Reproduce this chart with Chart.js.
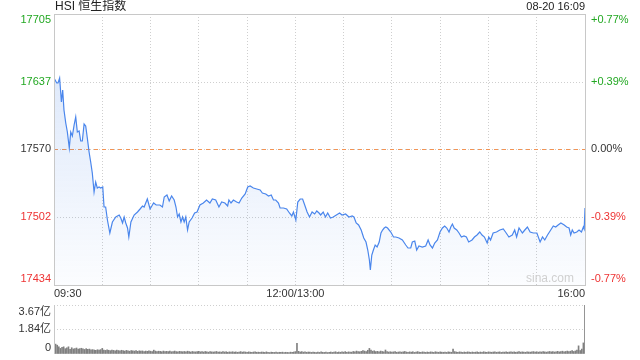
<!DOCTYPE html>
<html>
<head>
<meta charset="utf-8">
<script src="https://cdn.jsdelivr.net/npm/chart.js"></script>
<style>
  html, body { margin: 0; padding: 0; background: #fff; }
  #wrap { position: relative; width: 640px; height: 360px; }
  #main { position: absolute; left: 0; top: 0; }
  #vol { position: absolute; left: 0; top: 300px; }
</style>
</head>
<body>
<div id="wrap">
  <canvas id="main" width="640" height="300"></canvas>
  <canvas id="vol" width="640" height="60"></canvas>
</div>
<script>
// trading minutes since 09:30 (12:00/13:00 = 150, 16:00 = 330)
const minutes = [
  0, 1.7, 2.5, 3.5, 4.6, 5.4, 6.2, 7.3, 8.3, 9.5, 10.4, 11.4, 12.5, 13.5, 14.5, 15.6, 16.6, 17.6, 18.7, 19.7,
  20.7, 21.8, 22.8, 23.8, 24.9, 25.9, 26.9, 28.0, 29.0, 30.3, 31.1, 32.1, 33.2, 34.7, 36.3, 38.4, 40.5, 41.5, 42.6, 43.6,
  44.6, 45.7, 46.5, 47.8, 49.8, 51.9, 53.5, 55.0, 56.0, 57.0, 58.0, 59.7, 60.8, 61.9, 63.5, 65.8, 67.4, 68.5, 70.2, 71.6,
  73.1, 74.7, 75.8, 76.8, 77.8, 78.9, 79.9, 80.9, 81.9, 83.0, 84.0, 85.8, 87.4, 88.9, 90.7, 92.8, 94.8, 96.9, 98.4, 100.5,
  102.5, 104.2, 106.2, 107.9, 108.7, 110.0, 111.5, 113.5, 115.0, 116.7, 118.8, 120.4, 121.9, 123.9, 126.0, 128.1, 129.5, 131.6, 133.3, 135.0,
  136.4, 137.8, 139.5, 140.5, 142.6, 144.6, 146.3, 147.8, 148.8, 150.3, 151.5, 153.0, 154.5, 155.8, 157.3, 158.8, 160.4, 162.0, 163.3, 164.7,
  165.7, 167.3, 168.7, 170.1, 171.8, 173.5, 175.5, 177.5, 179.0, 181.2, 183.3, 185.3, 186.4, 187.8, 189.3, 190.9, 192.5, 193.9, 195.0, 196.0,
  196.6, 197.5, 198.5, 199.6, 200.8, 202.1, 203.2, 204.2, 205.2, 206.2, 207.3, 209.3, 211.0, 212.4, 214.4, 216.5, 218.6, 220.0, 221.7, 222.7,
  224.2, 225.4, 226.8, 228.9, 231.0, 232.5, 233.7, 235.2, 236.6, 238.3, 239.9, 241.4, 242.8, 244.1, 245.5, 246.6, 247.6, 248.7, 250.3, 251.7,
  253.2, 254.8, 256.3, 257.7, 259.8, 261.3, 262.9, 264.6, 266.0, 267.5, 269.2, 270.2, 271.3, 272.9, 275.0, 277.1, 279.2, 280.6, 282.7, 284.8,
  286.3, 287.5, 289.0, 291.1, 292.6, 294.2, 295.9, 297.9, 300.1, 302.1, 303.6, 305.0, 306.7, 308.7, 310.3, 311.8, 313.3, 315.0, 317.1, 318.6,
  320.1, 321.1, 322.1, 323.2, 324.9, 326.3, 327.8, 329.0, 329.5, 330
];
const prices = [
  17641, 17636, 17636, 17641, 17617, 17629, 17609, 17596, 17587, 17571, 17587, 17583, 17594, 17602, 17587, 17588, 17578, 17578, 17595, 17593,
  17581, 17567, 17557, 17546, 17527, 17537, 17531, 17532, 17531, 17532, 17512, 17512, 17499, 17486, 17497, 17502, 17504, 17501, 17496, 17502,
  17496, 17491, 17482, 17497, 17504, 17507, 17510, 17513, 17512, 17516, 17520, 17510, 17513, 17516, 17514, 17514, 17512, 17522, 17524, 17518,
  17523, 17519, 17512, 17502, 17505, 17497, 17502, 17497, 17502, 17489, 17497, 17501, 17506, 17507, 17514, 17516, 17519, 17516, 17520, 17519,
  17512, 17517, 17516, 17513, 17519, 17516, 17519, 17517, 17516, 17521, 17525, 17532, 17533, 17531, 17530, 17529, 17526, 17525, 17523, 17524,
  17519, 17519, 17516, 17511, 17511, 17510, 17506, 17503, 17507, 17499, 17517, 17520, 17520, 17514, 17507, 17502, 17507, 17505, 17508, 17506,
  17504, 17507, 17502, 17506, 17501, 17502, 17504, 17506, 17504, 17505, 17502, 17503, 17502, 17496, 17494, 17489, 17481, 17477, 17469, 17459,
  17449, 17464, 17469, 17474, 17472, 17477, 17486, 17489, 17491, 17492, 17491, 17487, 17482, 17482, 17481, 17479, 17474, 17471, 17471, 17477,
  17478, 17469, 17473, 17472, 17473, 17479, 17474, 17471, 17476, 17479, 17487, 17491, 17493, 17491, 17487, 17492, 17495, 17491, 17489, 17486,
  17482, 17483, 17482, 17477, 17479, 17482, 17484, 17487, 17484, 17482, 17476, 17482, 17479, 17486, 17487, 17489, 17490, 17487, 17482, 17484,
  17489, 17482, 17491, 17486, 17489, 17492, 17487, 17486, 17486, 17477, 17482, 17479, 17484, 17489, 17493, 17492, 17494, 17496, 17494, 17492,
  17491, 17484, 17489, 17486, 17487, 17489, 17487, 17492, 17490, 17511
];

// volume per minute, in 亿
const volumes = [
  1.96, 0.74, 0.66, 0.54, 0.42, 0.50, 0.54, 0.40, 0.46, 0.54,
  0.35, 0.47, 0.38, 0.41, 0.45, 0.36, 0.40, 0.43, 0.38, 0.34,
  0.40, 0.35, 0.37, 0.31, 0.33, 0.30, 0.28, 0.32, 0.30, 0.33,
  0.42, 0.29, 0.27, 0.31, 0.28, 0.25, 0.30, 0.27, 0.24, 0.29,
  0.26, 0.23, 0.28, 0.25, 0.22, 0.27, 0.24, 0.21, 0.26, 0.23,
  0.22, 0.25, 0.20, 0.24, 0.21, 0.23, 0.19, 0.22, 0.20, 0.24,
  0.21, 0.19, 0.29, 0.22, 0.18, 0.21, 0.20, 0.17, 0.22, 0.19,
  0.20, 0.18, 0.21, 0.17, 0.19, 0.22, 0.18, 0.16, 0.20, 0.18,
  0.17, 0.19, 0.16, 0.21, 0.18, 0.15, 0.19, 0.17, 0.16, 0.18,
  0.20, 0.16, 0.18, 0.15, 0.19, 0.17, 0.14, 0.18, 0.16, 0.15,
  0.17, 0.19, 0.15, 0.16, 0.14, 0.18, 0.15, 0.17, 0.13, 0.16,
  0.15, 0.17, 0.14, 0.16, 0.13, 0.15, 0.18, 0.14, 0.16, 0.15,
  0.13, 0.16, 0.14, 0.12, 0.15, 0.17, 0.13, 0.14, 0.12, 0.15,
  0.14, 0.12, 0.16, 0.13, 0.11, 0.14, 0.13, 0.12, 0.15, 0.11,
  0.13, 0.12, 0.14, 0.11, 0.13, 0.12, 0.10, 0.14, 0.12, 0.15,
  0.18, 0.79, 0.20, 0.15, 0.18, 0.14, 0.16, 0.13, 0.15, 0.14,
  0.12, 0.15, 0.13, 0.11, 0.14, 0.12, 0.16, 0.13, 0.12, 0.14,
  0.11, 0.13, 0.15, 0.12, 0.14, 0.17, 0.12, 0.15, 0.13, 0.16,
  0.14, 0.18, 0.13, 0.16, 0.15, 0.14, 0.19, 0.16, 0.22, 0.18,
  0.17, 0.20, 0.25, 0.22, 0.19, 0.28, 0.42, 0.30, 0.21, 0.24,
  0.18, 0.20, 0.17, 0.22, 0.19, 0.16, 0.30, 0.18, 0.15, 0.17,
  0.14, 0.16, 0.18, 0.13, 0.15, 0.17, 0.14, 0.16, 0.19, 0.15,
  0.13, 0.16, 0.14, 0.17, 0.12, 0.15, 0.18, 0.14, 0.13, 0.16,
  0.14, 0.12, 0.15, 0.13, 0.16, 0.14, 0.12, 0.17, 0.15, 0.13,
  0.16, 0.14, 0.13, 0.15, 0.12, 0.16, 0.14, 0.13, 0.37, 0.18,
  0.15, 0.13, 0.16, 0.14, 0.12, 0.15, 0.13, 0.16, 0.14, 0.12,
  0.15, 0.13, 0.14, 0.16, 0.12, 0.15, 0.13, 0.17, 0.14, 0.12,
  0.16, 0.14, 0.13, 0.15, 0.17, 0.13, 0.14, 0.16, 0.12, 0.15,
  0.14, 0.16, 0.13, 0.15, 0.17, 0.14, 0.16, 0.13, 0.15, 0.18,
  0.14, 0.16, 0.15, 0.13, 0.17, 0.15, 0.14, 0.16, 0.18, 0.15,
  0.17, 0.14, 0.16, 0.15, 0.18, 0.16, 0.14, 0.17, 0.19, 0.16,
  0.18, 0.15, 0.17, 0.20, 0.16, 0.18, 0.21, 0.17, 0.19, 0.22,
  0.18, 0.21, 0.25, 0.19, 0.23, 0.29, 0.61, 0.26, 0.37, 0.83,
  3.67
];

const preClose = 17570;
const priceTicks = [17434, 17502, 17570, 17637, 17705];
const pctTicks = ['-0.77%', '-0.39%', '0.00%', '+0.39%', '+0.77%'];
const timeTicks = [0, 150, 330];
const timeLabels = ['09:30', '12:00/13:00', '16:00'];
const volTicks = [0, 1.84, 3.67];
const volLabels = ['0', '1.84亿', '3.67亿'];
const title = 'HSI 恒生指数';
const stamp = '08-20 16:09';

const FONT = '11px "Liberation Sans", Arial, "Noto Sans CJK SC", sans-serif';
const GREEN = '#22a822';
const RED = '#ee3333';
const GRID = '#cfcfcf';
const FRAME = '#c8c8c8';

function tickColor(v) {
  if (v > preClose) return GREEN;
  if (v < preClose) return RED;
  return '#333';
}

// draws frame, labels, pre-close line, title
const decor = {
  id: 'decor',
  beforeDatasetsDraw(chart) {
    const {ctx, chartArea: a, scales} = chart;
    const y = Math.round(scales.y.getPixelForValue(preClose)) + 0.5;
    ctx.save();
    ctx.strokeStyle = '#f29455';
    ctx.lineWidth = 1;
    ctx.setLineDash([4, 4]);
    ctx.beginPath();
    ctx.moveTo(a.left, y);
    ctx.lineTo(a.right, y);
    ctx.stroke();
    ctx.restore();
  },
  afterDraw(chart) {
    const {ctx, chartArea: a, scales} = chart;
    ctx.save();
    ctx.strokeStyle = FRAME;
    ctx.lineWidth = 1;
    ctx.strokeRect(a.left + 0.5, a.top + 0.5, a.right - a.left, a.bottom - a.top);

    ctx.font = FONT;
    ctx.textBaseline = 'middle';
    priceTicks.forEach((v, i) => {
      let y = scales.y.getPixelForValue(v);
      if (i === 0) y -= 6;
      if (i === priceTicks.length - 1) y += 6;
      ctx.fillStyle = tickColor(v);
      ctx.textAlign = 'right';
      ctx.fillText(String(v), a.left - 3, y);
      ctx.textAlign = 'left';
      ctx.fillText(pctTicks[i], a.right + 6, y);
    });

    ctx.fillStyle = '#333';
    timeTicks.forEach((t, i) => {
      const x = scales.x.getPixelForValue(t);
      ctx.textAlign = i === 0 ? 'left' : (i === timeTicks.length - 1 ? 'right' : 'center');
      ctx.fillText(timeLabels[i], x, a.bottom + 9);
    });

    ctx.font = '12px "Liberation Sans", Arial, "Noto Sans CJK SC", sans-serif';
    ctx.textAlign = 'left';
    ctx.fillStyle = '#222';
    ctx.fillText(title, a.left + 1, 7);
    ctx.font = FONT;
    ctx.textAlign = 'right';
    ctx.fillText(stamp, a.right, 7);

    ctx.font = '12px "Liberation Sans", Arial, sans-serif';
    ctx.fillStyle = '#d0d0d0';
    ctx.fillText('sina.com', a.right - 11, a.bottom - 6);
    ctx.restore();
  }
};

const mainChart = new Chart(document.getElementById('main'), {
  type: 'line',
  data: {
    datasets: [{
      data: minutes.map((m, i) => ({x: m, y: prices[i]})),
      borderColor: '#4a86ec',
      borderWidth: 1.2,
      pointRadius: 0,
      tension: 0,
      fill: 'start',
      backgroundColor: (c) => {
        const a = c.chart.chartArea;
        if (!a) return 'rgba(70,130,230,0.1)';
        const g = c.chart.ctx.createLinearGradient(0, a.top, 0, a.bottom);
        g.addColorStop(0, 'rgba(70,130,230,0.22)');
        g.addColorStop(1, 'rgba(70,130,230,0.02)');
        return g;
      }
    }]
  },
  options: {
    responsive: false,
    animation: false,
    layout: {padding: {left: 54, right: 55, top: 14, bottom: 15}},
    plugins: {legend: {display: false}, tooltip: {enabled: false}},
    scales: {
      x: {
        type: 'linear', min: 0, max: 330,
        ticks: {display: false, stepSize: 30},
        grid: {color: GRID, drawTicks: false},
        border: {display: false, dash: [1, 2]}
      },
      y: {
        min: priceTicks[0], max: priceTicks[priceTicks.length - 1],
        afterBuildTicks: (s) => { s.ticks = priceTicks.map(v => ({value: v})); },
        ticks: {display: false},
        grid: {color: GRID, drawTicks: false},
        border: {display: false, dash: [1, 2]}
      }
    }
  },
  plugins: [decor]
});

// volume panel
const volDecor = {
  id: 'volDecor',
  afterDraw(chart) {
    const {ctx, chartArea: a, scales} = chart;
    ctx.save();
    ctx.strokeStyle = FRAME;
    ctx.beginPath();
    ctx.moveTo(a.left + 0.5, a.top);
    ctx.lineTo(a.left + 0.5, a.bottom);
    ctx.stroke();
    ctx.font = FONT;
    ctx.textBaseline = 'middle';
    ctx.textAlign = 'right';
    ctx.fillStyle = '#333';
    volTicks.forEach((v, i) => {
      let y = scales.y.getPixelForValue(v);
      if (i === 0) y -= 6;
      if (i === volTicks.length - 1) y += 7;
      ctx.fillText(volLabels[i], a.left - 3, y);
    });
    ctx.restore();
  }
};

const volChart = new Chart(document.getElementById('vol'), {
  type: 'bar',
  data: {
    datasets: [{
      data: volumes.map((v, i) => ({x: i, y: v})),
      backgroundColor: '#808080',
      barThickness: 1
    }]
  },
  options: {
    responsive: false,
    animation: false,
    layout: {padding: {left: 54, right: 55, top: 5, bottom: 6}},
    plugins: {legend: {display: false}, tooltip: {enabled: false}},
    scales: {
      x: {type: 'linear', min: 0, max: 330, offset: false, display: false},
      y: {
        min: 0, max: volTicks[volTicks.length - 1],
        afterBuildTicks: (s) => { s.ticks = volTicks.map(v => ({value: v})); },
        ticks: {display: false},
        grid: {color: (c) => c.tick && c.tick.value === 0 ? 'rgba(0,0,0,0)' : GRID, drawTicks: false},
        border: {display: false, dash: [1, 2]}
      }
    }
  },
  plugins: [volDecor]
});
</script>
</body>
</html>
